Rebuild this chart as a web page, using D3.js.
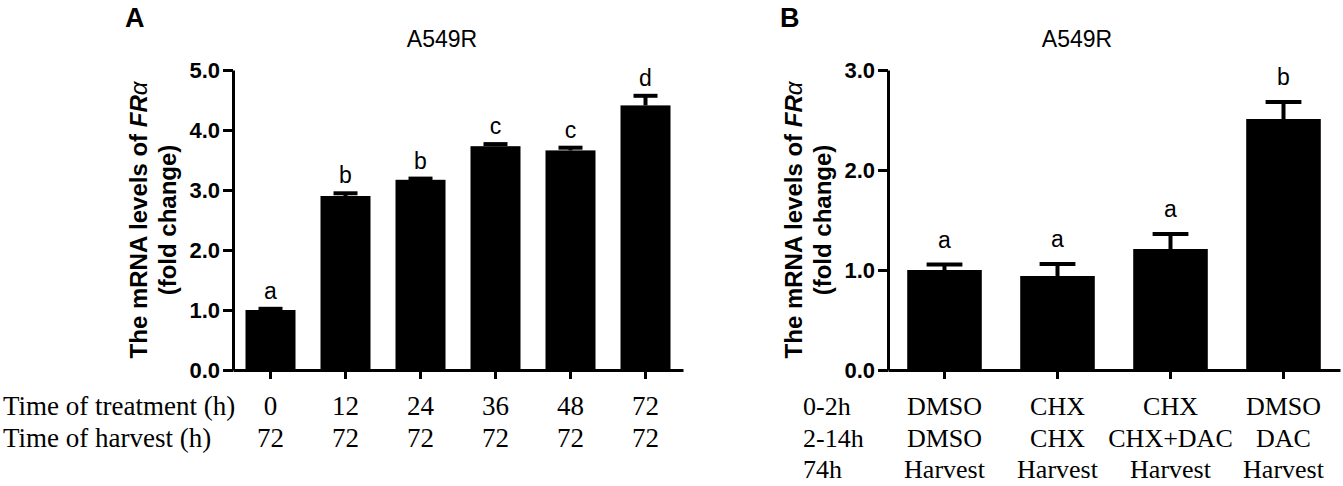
<!DOCTYPE html>
<html>
<head>
<meta charset="utf-8">
<script src="https://cdnjs.cloudflare.com/ajax/libs/d3/7.8.5/d3.min.js"></script>
<style>
  html, body { margin: 0; padding: 0; background: #fff; }
  svg { display: block; }
  .sans { font-family: Arial, "Liberation Sans", Helvetica, sans-serif; }
  .serif { font-family: "Times New Roman", "Liberation Serif", serif; }
</style>
</head>
<body>
<script>
'use strict';

// panel A: time course
const treatA = ['0', '12', '24', '36', '48', '72'];
const harvestA = ['72', '72', '72', '72', '72', '72'];
const meanA = [1.00, 2.90, 3.17, 3.73, 3.66, 4.41];
const semA = [0.02, 0.045, 0.02, 0.035, 0.045, 0.16];
const lettersA = ['a', 'b', 'b', 'c', 'c', 'd'];
const rowNamesA = ['Time of treatment (h)', 'Time of harvest (h)'];
const ticksA = [0, 1, 2, 3, 4, 5];

// panel B: CHX / DAC
const step1B = ['DMSO', 'CHX', 'CHX', 'DMSO'];
const step2B = ['DMSO', 'CHX', 'CHX+DAC', 'DAC'];
const step3B = ['Harvest', 'Harvest', 'Harvest', 'Harvest'];
const meanB = [1.00, 0.94, 1.21, 2.51];
const semB = [0.055, 0.12, 0.15, 0.17];
const lettersB = ['a', 'a', 'a', 'b'];
const rowNamesB = ['0-2h', '2-14h', '74h'];
const ticksB = [0, 1, 2, 3];

const W = 1343, H = 486;

const svg = d3.select('body')
    .append('svg')
    .attr('width', W)
    .attr('height', H);

function panel(opt) {
    const g = svg.append('g');
    const ids = opt.mean.map((d, i) => i);

    const x = d3.scaleBand()
        .domain(ids)
        .range([opt.x0, opt.x1])
        .paddingInner(opt.pad)
        .paddingOuter(opt.pad / 2);

    const y = d3.scaleLinear()
        .domain([0, opt.ymax])
        .range([370, 70]);

    // panel letter and title
    g.append('text')
        .attr('class', 'sans')
        .attr('x', opt.letterX)
        .attr('y', 27)
        .style('font-size', '27px')
        .style('font-weight', 'bold')
        .text(opt.letter);

    g.append('text')
        .attr('class', 'sans')
        .attr('x', opt.titleX)
        .attr('y', 47)
        .attr('text-anchor', 'middle')
        .style('font-size', '23px')
        .text('A549R');

    // bars
    g.selectAll('rect.bar')
        .data(ids)
        .enter()
        .append('rect')
        .attr('class', 'bar')
        .attr('x', i => x(i))
        .attr('width', x.bandwidth())
        .attr('y', i => y(opt.mean[i]))
        .attr('height', i => y(0) - y(opt.mean[i]))
        .style('fill', '#000');

    // error bars (upper only)
    const capW = x.bandwidth() * 0.48;
    const err = g.selectAll('g.err')
        .data(ids)
        .enter()
        .append('g')
        .attr('class', 'err')
        .style('stroke', '#000')
        .style('stroke-width', 4);
    err.append('line')
        .attr('x1', i => x(i) + x.bandwidth() / 2)
        .attr('x2', i => x(i) + x.bandwidth() / 2)
        .attr('y1', i => y(opt.mean[i]))
        .attr('y2', i => y(opt.mean[i] + opt.sem[i]));
    err.append('line')
        .attr('x1', i => x(i) + x.bandwidth() / 2 - capW / 2)
        .attr('x2', i => x(i) + x.bandwidth() / 2 + capW / 2)
        .attr('y1', i => y(opt.mean[i] + opt.sem[i]))
        .attr('y2', i => y(opt.mean[i] + opt.sem[i]));

    // significance letters
    g.selectAll('text.sig')
        .data(ids)
        .enter()
        .append('text')
        .attr('class', 'sans sig')
        .attr('x', i => x(i) + x.bandwidth() / 2)
        .attr('y', i => y(opt.mean[i] + opt.sem[i]) - 2 - opt.gap)
        .attr('text-anchor', 'middle')
        .style('font-size', '23px')
        .text(i => opt.sig[i]);

    // axes
    const yAxis = g.append('g')
        .attr('transform', `translate(${opt.x0},0)`)
        .call(d3.axisLeft(y)
            .tickValues(opt.ticks)
            .tickFormat(d3.format('.1f'))
            .tickSize(10)
            .tickSizeOuter(0)
            .tickPadding(3));

    const xAxis = g.append('g')
        .attr('transform', 'translate(0,370)')
        .call(d3.axisBottom(x)
            .tickFormat('')
            .tickSize(9)
            .tickSizeOuter(0));

    [yAxis, xAxis].forEach(a => {
        a.select('.domain').style('stroke', '#000').style('stroke-width', 3);
        a.selectAll('.tick line').style('stroke', '#000').style('stroke-width', 3);
    });
    yAxis.selectAll('.tick text')
        .attr('class', 'sans')
        .style('font-size', '22px')
        .style('font-weight', 'bold')
        .style('fill', '#000');

    // y axis title, two lines
    const cy = (y(0) + y(opt.ymax)) / 2;
    const t1 = g.append('text')
        .attr('class', 'sans')
        .attr('transform', `translate(${opt.x0 - 86},${cy}) rotate(-90)`)
        .attr('text-anchor', 'middle')
        .style('font-size', '24px')
        .style('font-weight', 'bold');
    t1.append('tspan').text('The mRNA levels of ');
    t1.append('tspan').style('font-style', 'italic').text('FR');
    t1.append('tspan').style('font-style', 'italic').style('font-weight', 'normal').text('\u03B1');

    g.append('text')
        .attr('class', 'sans')
        .attr('transform', `translate(${opt.x0 - 57},${cy}) rotate(-90)`)
        .attr('text-anchor', 'middle')
        .style('font-size', '24px')
        .style('font-weight', 'bold')
        .text('(fold change)');

    // condition table under the axis
    const baseY = [415, 447, 478];
    opt.rows.forEach((row, r) => {
        g.append('text')
            .attr('class', 'serif')
            .attr('x', opt.rowX)
            .attr('y', baseY[r])
            .style('font-size', opt.rowFont + 'px')
            .text(opt.rowNames[r]);

        g.selectAll(null)
            .data(ids)
            .enter()
            .append('text')
            .attr('class', 'serif')
            .attr('x', i => x(i) + x.bandwidth() / 2)
            .attr('y', baseY[r])
            .attr('text-anchor', 'middle')
            .style('font-size', opt.rowFont + 'px')
            .text(i => row[i]);
    });
}

panel({
    letter: 'A', letterX: 125, titleX: 442,
    x0: 233, x1: 683, pad: 1 / 3,
    ymax: 5, ticks: ticksA,
    mean: meanA, sem: semA, sig: lettersA, gap: 8,
    rows: [treatA, harvestA], rowNames: rowNamesA,
    rowX: 3, rowFont: 27
});

panel({
    letter: 'B', letterX: 780, titleX: 1077,
    x0: 888, x1: 1340, pad: 0.34,
    ymax: 3, ticks: ticksB,
    mean: meanB, sem: semB, sig: lettersB, gap: 15,
    rows: [step1B, step2B, step3B], rowNames: rowNamesB,
    rowX: 803, rowFont: 26
});
</script>
</body>
</html>
